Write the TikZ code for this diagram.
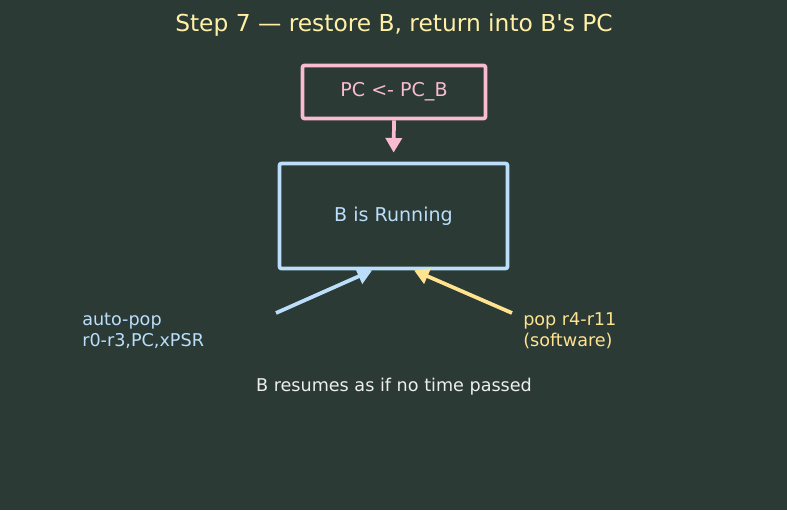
\documentclass[tikz,border=0pt]{standalone}
\usepackage{fontspec}
\setmainfont{DejaVu Sans}
\usetikzlibrary{arrows.meta}

\definecolor{bgcol}{HTML}{2B3A35}
\definecolor{pinkc}{HTML}{F8BBD0}
\definecolor{bluec}{HTML}{BBDEFB}
\definecolor{yellowc}{HTML}{FFE38F}
\definecolor{titlec}{HTML}{FFF0A6}
\definecolor{notec}{HTML}{EEEEEE}

\tikzset{
  box/.style={draw, line width=2.8pt, rounded corners=1.5pt, inner sep=0pt,
    font=\fontsize{14.3}{17}\selectfont},
  lbl/.style={anchor=west, align=left, inner sep=0pt,
    font=\fontsize{13.2}{15.75}\selectfont},
  arr/.style={line width=2.8pt, -{Triangle[length=11pt,width=12pt]}}
}

\begin{document}
\begin{tikzpicture}[x=0.75pt, y=-0.75pt]
  % Background and fixed page size
  \fill[bgcol] (0,0) rectangle (787,510);
  \useasboundingbox (0,0) rectangle (787,510);

  % Title
  \node[titlec, font=\fontsize{17.5}{20}\selectfont] (title) at (394,25)
    {Step 7 — restore B, return into B\textquotesingle s PC};

  % Boxes
  \node[box, pinkc, minimum width=137.25pt, minimum height=39.75pt] (pcbox)
    at (394,92) {\raisebox{-1.5pt}{PC <- PC\_B}};
  \node[box, bluec, minimum width=171pt, minimum height=78.75pt] (bbox)
    at (393.5,216) {\raisebox{-1.5pt}{B is Running}};

  % PC load into B
  \draw[arr, pinkc, shorten >=6.75pt] (pcbox.south) -- (bbox.north);

  % Restore paths
  \coordinate (autostart) at (276,313);
  \coordinate (popstart) at (512,313);
  \draw[arr, bluec] (autostart) -- ([xshift=-16pt]bbox.south);
  \draw[arr, yellowc] (popstart) -- ([xshift=15.4pt]bbox.south);

  % Labels
  \node[lbl, bluec] (autolbl) at (82,331) {auto-pop\\r0-r3,PC,xPSR};
  \node[lbl, yellowc] (poplbl) at (523,331) {pop r4-r11\\(software)};

  % Note
  \node[notec, font=\fontsize{13.2}{15.75}\selectfont] (note) at (394,387)
    {B resumes as if no time passed};
\end{tikzpicture}
\end{document}
